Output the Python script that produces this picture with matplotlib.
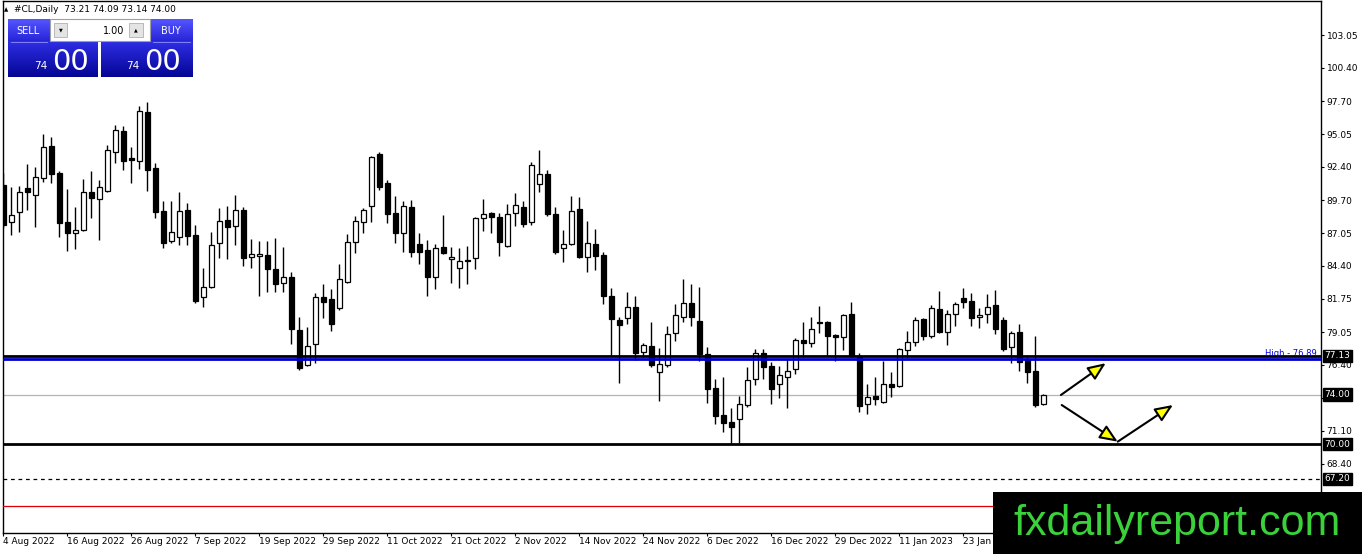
import matplotlib.pyplot as plt
from matplotlib.patches import Rectangle, FancyArrowPatch
import numpy as np

# daily OHLC for #CL (4 Aug 2022 .. early Feb 2023)
opens = [90.93, 87.94, 88.75, 90.69, 90.13, 91.50, 94.08, 91.90, 87.94, 87.06,
         87.30, 90.37, 89.80, 90.45, 93.60, 95.30, 93.11, 92.87, 96.83, 92.31,
         88.83, 86.41, 86.73, 88.91, 86.89, 81.89, 82.70, 86.25, 88.11, 87.62,
         88.91, 85.12, 85.20, 85.28, 84.15, 83.02, 83.50, 79.22, 76.39, 78.09,
         81.89, 81.73, 81.00, 83.10, 86.33, 87.94, 89.24, 93.44, 91.10, 88.67,
         87.06, 89.16, 86.17, 85.68, 83.50, 85.93, 84.96, 84.23, 84.88, 85.04,
         88.27, 88.67, 88.35, 86.01, 88.67, 89.16, 87.94, 91.01, 91.82, 88.59,
         85.85, 86.17, 88.99, 85.12, 86.17, 85.28, 81.97, 80.03, 80.19, 81.08,
         77.44, 77.93, 75.83, 76.39, 78.98, 80.27, 81.40, 79.95, 77.28, 74.54,
         72.36, 71.79, 72.03, 73.16, 75.26, 77.36, 76.31, 74.86, 75.42, 76.07,
         78.41, 78.17, 79.87, 79.87, 78.82, 78.66, 80.51, 77.12, 73.24, 73.89,
         73.41, 74.86, 74.70, 77.61, 78.25, 80.11, 78.74, 80.92, 79.06, 80.51,
         81.81, 81.56, 80.27, 80.51, 81.24, 80.03, 77.85, 79.06, 76.80, 75.91,
         73.21]
highs = [91.90, 90.77, 90.85, 92.63, 92.39, 95.05, 94.81, 92.06, 90.61, 89.16,
         91.42, 92.06, 91.34, 94.16, 95.78, 95.70, 94.00, 97.31, 97.64, 92.71,
         89.64, 89.64, 90.37, 89.48, 87.70, 84.23, 87.14, 89.08, 89.24, 90.13,
         89.16, 86.57, 86.41, 86.41, 86.65, 85.93, 83.91, 80.27, 79.46, 82.21,
         82.94, 82.53, 84.55, 86.98, 88.43, 89.08, 93.28, 93.60, 91.34, 90.05,
         89.64, 89.72, 87.06, 86.49, 86.17, 88.51, 85.93, 85.85, 86.01, 88.35,
         89.80, 88.75, 88.67, 89.40, 90.29, 89.64, 92.79, 93.76, 92.15, 89.16,
         87.30, 90.05, 89.96, 88.03, 87.38, 85.52, 82.61, 80.27, 82.29, 81.97,
         78.17, 79.87, 77.77, 79.54, 81.32, 83.34, 82.94, 82.70, 77.85, 75.26,
         75.42, 72.92, 73.89, 76.23, 77.69, 77.69, 76.64, 76.31, 76.88, 78.58,
         79.87, 80.27, 81.16, 79.95, 78.90, 80.51, 81.48, 77.36, 74.86, 75.42,
         76.72, 75.83, 77.77, 79.14, 80.27, 80.19, 81.24, 82.37, 80.84, 81.48,
         82.61, 82.21, 81.00, 82.13, 82.45, 80.27, 79.14, 79.71, 77.04, 78.74,
         74.09]
lows = [87.46, 86.89, 87.14, 88.91, 87.54, 91.18, 91.10, 86.73, 85.60, 85.76,
        87.22, 88.27, 86.49, 90.37, 92.71, 92.15, 91.10, 92.23, 90.45, 88.27,
        85.85, 86.25, 86.09, 86.09, 81.40, 81.08, 82.61, 85.04, 84.96, 86.09,
        84.39, 84.23, 81.97, 82.29, 82.29, 82.29, 78.09, 75.99, 76.31, 76.56,
        80.19, 79.14, 80.84, 83.02, 85.44, 87.06, 87.94, 90.53, 87.86, 86.25,
        85.52, 85.12, 84.55, 81.97, 82.53, 85.36, 83.02, 82.61, 82.94, 84.15,
        87.22, 87.06, 85.20, 85.93, 87.62, 87.54, 87.70, 90.37, 88.43, 85.36,
        84.71, 86.09, 85.04, 83.91, 84.07, 81.32, 77.12, 74.94, 79.71, 76.80,
        77.04, 76.23, 73.49, 76.23, 78.33, 79.87, 79.54, 76.72, 73.32, 71.63,
        70.98, 70.01, 70.09, 73.00, 74.78, 75.26, 73.24, 73.73, 72.92, 75.67,
        77.04, 77.85, 78.98, 77.12, 76.72, 77.61, 77.04, 72.60, 72.44, 73.16,
        73.32, 73.81, 74.62, 76.96, 77.93, 78.41, 78.58, 78.98, 78.01, 79.54,
        81.00, 79.54, 79.38, 79.79, 78.90, 77.53, 76.56, 75.91, 74.94, 73.00,
        73.14]
closes = [87.70, 88.51, 90.37, 90.37, 91.58, 94.00, 91.82, 87.86, 87.06, 87.30,
          90.37, 89.88, 90.77, 93.76, 95.38, 92.87, 92.95, 96.91, 92.15, 88.75,
          86.25, 87.14, 88.83, 86.81, 81.56, 82.70, 86.09, 88.03, 87.54, 88.91,
          85.04, 85.36, 85.36, 84.15, 82.94, 83.50, 79.30, 76.15, 77.93, 81.89,
          81.48, 79.71, 83.34, 86.33, 88.03, 88.91, 93.20, 90.77, 88.59, 87.06,
          89.24, 85.52, 85.52, 83.50, 85.85, 85.44, 85.12, 84.79, 84.79, 88.27,
          88.59, 88.35, 86.33, 88.59, 89.32, 87.78, 92.55, 91.82, 88.59, 85.52,
          86.17, 88.83, 85.12, 86.25, 85.20, 81.97, 80.11, 79.62, 81.08, 77.36,
          78.01, 76.39, 76.48, 78.90, 80.43, 81.40, 80.27, 77.28, 74.46, 72.27,
          71.71, 71.39, 73.24, 75.18, 77.36, 76.23, 74.46, 75.59, 75.91, 78.41,
          78.17, 79.30, 79.79, 78.74, 78.66, 80.43, 77.12, 73.08, 73.81, 73.65,
          74.86, 74.62, 77.69, 78.25, 80.03, 78.74, 81.00, 79.06, 80.51, 81.32,
          81.48, 80.19, 80.43, 81.08, 79.30, 77.69, 78.98, 76.64, 75.83, 73.16,
          74.00]

date_labels = ['4 Aug 2022', '16 Aug 2022', '26 Aug 2022', '7 Sep 2022', '19 Sep 2022',
               '29 Sep 2022', '11 Oct 2022', '21 Oct 2022', '2 Nov 2022', '14 Nov 2022',
               '24 Nov 2022', '6 Dec 2022', '16 Dec 2022', '29 Dec 2022', '11 Jan 2023',
               '23 Jan 2023']
bars_per_label = 8

price_ticks = [103.05, 100.40, 97.70, 95.05, 92.40, 89.70, 87.05, 84.40, 81.75,
               79.05, 76.40, 73.75, 71.10, 68.40, 65.70]
hidden_ticks = [73.75, 65.70]  # covered by the price box / watermark

# horizontal levels drawn on the chart
resistance = 77.13
prev_high = 76.89
last_price = 74.00
support = 70.00
support2 = 67.20
red_level = 65.00

# scenario arrows: (bar, price) -> (bar, price)
arrows = [((132.2, 73.97), (137.8, 76.54)),
          ((132.3, 73.16), (139.3, 70.20)),
          ((139.3, 70.20), (146.2, 73.16))]

W, H = 1362, 554
fig = plt.figure(figsize=(W / 100, H / 100), dpi=100)
ax = fig.add_axes([3 / W, 21 / H, 1318 / W, 532 / H])
ax.set_xlim(-0.04, 164.71)
ax.set_ylim(62.82, 105.80)

o = np.array(opens)
h = np.array(highs)
l = np.array(lows)
c = np.array(closes)
x = np.arange(len(o))
up = c >= o

ax.vlines(x, l, h, color='black', lw=1, zorder=2)
ax.bar(x, np.maximum(np.abs(c - o), 0.02), bottom=np.minimum(o, c), width=0.62,
       color=np.where(up, 'white', 'black'), edgecolor='black', linewidth=0.9, zorder=3)

ax.axhline(last_price, color='#b4b4b4', lw=0.9, zorder=1)
ax.axhline(resistance, color='black', lw=2, zorder=4)
ax.axhline(prev_high, color='#0000c8', lw=2, zorder=4)
ax.axhline(support, color='black', lw=2, zorder=4)
ax.axhline(support2, color='black', lw=0.9, ls=(0, (3, 3)), zorder=4)
ax.axhline(red_level, color='#e00000', lw=0.9, zorder=4)

ax.text(0.997, prev_high + 0.05, 'High - 76.89', transform=ax.get_yaxis_transform(),
        ha='right', va='bottom', fontsize=6, color='#0000e0', zorder=5)

for start, end in arrows:
    ax.add_patch(FancyArrowPatch(start, end, arrowstyle='-|>,head_length=0.9,head_width=0.38',
                                 mutation_scale=12, fc='#ffff00', ec='black', lw=1.5,
                                 shrinkA=0, shrinkB=0, zorder=6))

# axes styling like the terminal
for s in ax.spines.values():
    s.set_color('black')
    s.set_linewidth(1)
ax.yaxis.tick_right()
ax.set_yticks(price_ticks)
ax.set_yticklabels(['' if p in hidden_ticks else f'{p:.2f}' for p in price_ticks])
ax.tick_params(axis='y', direction='out', length=2.5, pad=1.5, labelsize=6.5)
ax.set_xticks(range(0, bars_per_label * len(date_labels), bars_per_label))
ax.set_xticklabels(date_labels)
for t in ax.get_xticklabels():
    t.set_horizontalalignment('left')
ax.tick_params(axis='x', direction='out', length=2, pad=1, labelsize=6.5)

for level in [resistance, last_price, support, support2]:
    ax.annotate(f'{level:.2f}', xy=(1.0, level), xycoords=('axes fraction', 'data'),
                xytext=(2.5, 0), textcoords='offset points', ha='left', va='center',
                fontsize=6.5, color='white', annotation_clip=False, zorder=10,
                bbox=dict(boxstyle='square,pad=0.18', fc='black', ec='black'))

# one-click trading panel (pixel coordinates)
pa = fig.add_axes([0, 1 - 80 / H, 200 / W, 80 / H])
pa.set_xlim(0, 200)
pa.set_ylim(80, 0)
pa.axis('off')


def grad(x0, x1, y0, y1, top, bot):
    t = np.linspace(0, 1, 40)[:, None, None]
    arr = np.array(top)[None, None, :] * (1 - t) + np.array(bot)[None, None, :] * t
    pa.imshow(arr, extent=(x0, x1, y1, y0), aspect='auto', zorder=2)


grad(8, 50, 19, 41, (0.33, 0.33, 1.0), (0.15, 0.15, 0.85))
grad(150, 193, 19, 41, (0.33, 0.33, 1.0), (0.15, 0.15, 0.85))
grad(8, 98, 42, 77, (0.18, 0.18, 0.90), (0.02, 0.02, 0.58))
grad(101, 193, 42, 77, (0.18, 0.18, 0.90), (0.02, 0.02, 0.58))
pa.add_patch(Rectangle((50, 19), 100, 22, fc='white', ec='#a0a0a0', lw=0.8, zorder=3))
pa.add_patch(Rectangle((54, 23), 13, 14, fc='#e4e4e4', ec='#b0b0b0', lw=0.6, zorder=4))
pa.add_patch(Rectangle((129, 23), 14, 14, fc='#e4e4e4', ec='#b0b0b0', lw=0.6, zorder=4))
pa.text(60.5, 30, '▼', fontsize=3.5, ha='center', va='center', zorder=5)
pa.text(136, 30, '▲', fontsize=3.5, ha='center', va='center', zorder=5)
pa.text(124, 30.5, '1.00', fontsize=7, ha='right', va='center', zorder=5)
pa.plot([11, 47], [41.5, 41.5], color='#9090ff', lw=0.6, zorder=5)
pa.plot([153, 190], [41.5, 41.5], color='#9090ff', lw=0.6, zorder=5)
pa.text(28, 30.5, 'SELL', fontsize=7, color='white', ha='center', va='center', zorder=5)
pa.text(171, 30.5, 'BUY', fontsize=7, color='white', ha='center', va='center', zorder=5)
pa.text(41, 69, '74', fontsize=7.5, color='white', ha='center', va='baseline', zorder=5)
pa.text(70, 70, '00', fontsize=21, color='white', ha='center', va='baseline', zorder=5)
pa.text(133, 69, '74', fontsize=7.5, color='white', ha='center', va='baseline', zorder=5)
pa.text(163, 70, '00', fontsize=21, color='white', ha='center', va='baseline', zorder=5)
pa.text(4, 9.5, '▲', fontsize=4, ha='left', va='center', zorder=5)
pa.text(14, 9.5, '#CL,Daily  73.21 74.09 73.14 74.00', fontsize=6.5, ha='left',
        va='center', zorder=5)

# watermark
fig.add_artist(Rectangle((993 / W, 0), 369 / W, 62 / H, transform=fig.transFigure,
                         fc='black', ec='none', zorder=20))
fig.text(1177 / W, 19 / H, 'fxdailyreport.com', color='#3ad13a', fontsize=31,
         family='Liberation Sans', ha='center', va='baseline', zorder=21)

fig.savefig('out.png', dpi=100)
